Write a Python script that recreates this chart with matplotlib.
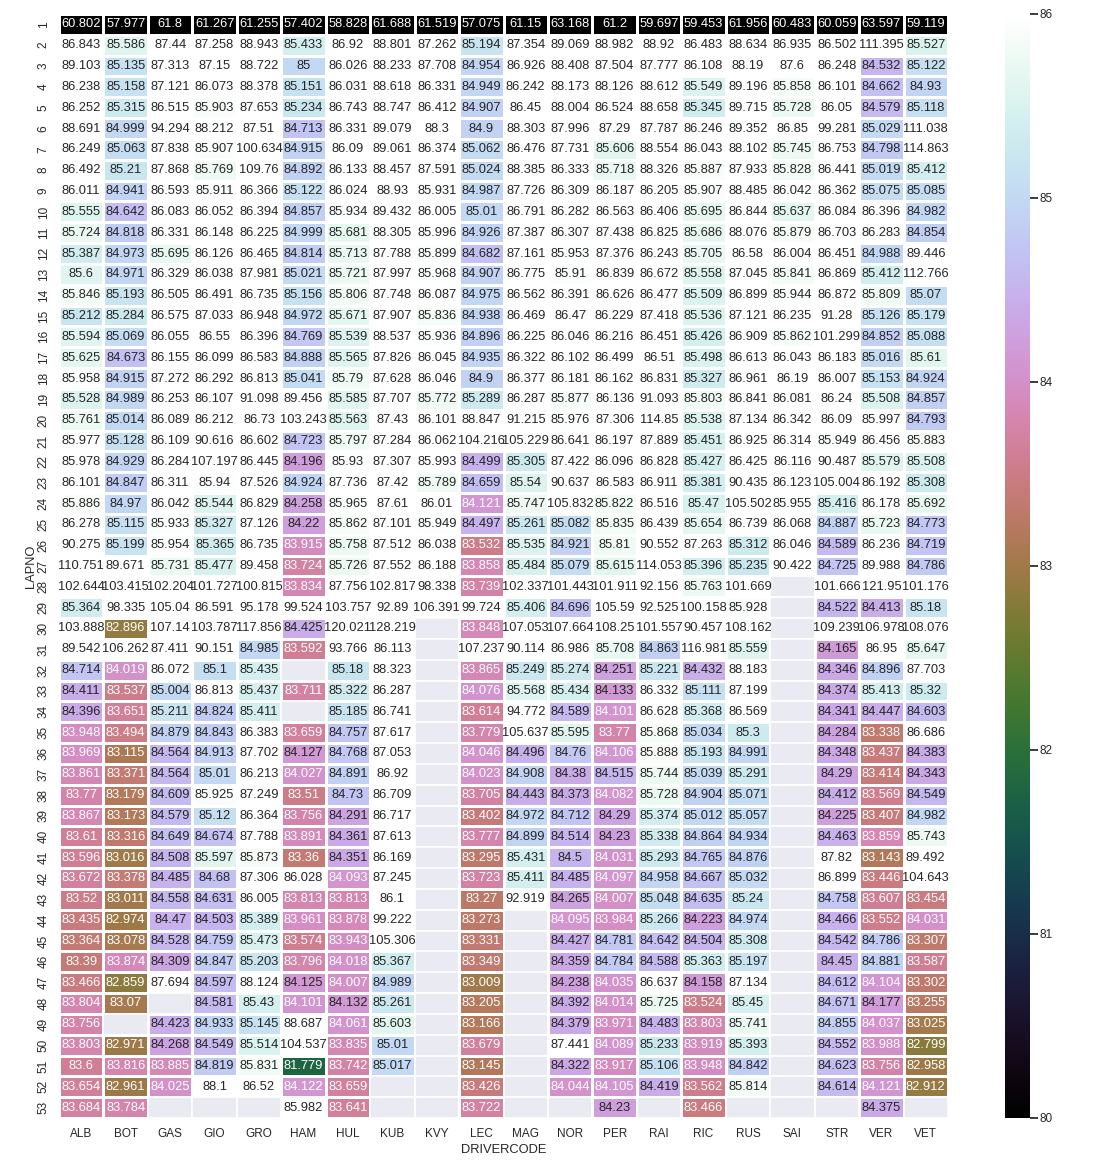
import numpy as np
import pandas as pd
import matplotlib
matplotlib.use("Agg")
import matplotlib.pyplot as plt
from matplotlib.colors import ListedColormap
import seaborn as sns

N = None
drivers = ["ALB", "BOT", "GAS", "GIO", "GRO", "HAM", "HUL", "KUB", "KVY", "LEC",
           "MAG", "NOR", "PER", "RAI", "RIC", "RUS", "SAI", "STR", "VER", "VET"]
laps = list(range(1, 54))

ALB = [60.802, 86.843, 89.103, 86.238, 86.252, 88.691, 86.249, 86.492, 86.011, 85.555,
       85.724, 85.387, 85.6, 85.846, 85.212, 85.594, 85.625, 85.958, 85.528, 85.761,
       85.977, 85.978, 86.101, 85.886, 86.278, 90.275, 110.751, 102.644, 85.364, 103.888,
       89.542, 84.714, 84.411, 84.396, 83.948, 83.969, 83.861, 83.77, 83.867, 83.61,
       83.596, 83.672, 83.52, 83.435, 83.364, 83.39, 83.466, 83.804, 83.756, 83.803,
       83.6, 83.654, 83.684]
BOT = [57.977, 85.586, 85.135, 85.158, 85.315, 84.999, 85.063, 85.21, 84.941, 84.642,
       84.818, 84.973, 84.971, 85.193, 85.284, 85.069, 84.673, 84.915, 84.989, 85.014,
       85.128, 84.929, 84.847, 84.97, 85.115, 85.199, 89.671, 103.415, 98.335, 82.896,
       106.262, 84.019, 83.537, 83.651, 83.494, 83.115, 83.371, 83.179, 83.173, 83.316,
       83.016, 83.378, 83.011, 82.974, 83.078, 83.874, 82.859, 83.07, N, 82.971,
       83.816, 82.961, 83.784]
GAS = [61.8, 87.44, 87.313, 87.121, 86.515, 94.294, 87.838, 87.868, 86.593, 86.083,
       86.331, 85.695, 86.329, 86.505, 86.575, 86.055, 86.155, 87.272, 86.253, 86.089,
       86.109, 86.284, 86.311, 86.042, 85.933, 85.954, 85.731, 102.204, 105.04, 107.14,
       87.411, 86.072, 85.004, 85.211, 84.879, 84.564, 84.564, 84.609, 84.579, 84.649,
       84.508, 84.485, 84.558, 84.47, 84.528, 84.309, 87.694, N, 84.423, 84.268,
       83.885, 84.025, N]
GIO = [61.267, 87.258, 87.15, 86.073, 85.903, 88.212, 85.907, 85.769, 85.911, 86.052,
       86.148, 86.126, 86.038, 86.491, 87.033, 86.55, 86.099, 86.292, 86.107, 86.212,
       90.616, 107.197, 85.94, 85.544, 85.327, 85.365, 85.477, 101.727, 86.591, 103.787,
       90.151, 85.1, 86.813, 84.824, 84.843, 84.913, 85.01, 85.925, 85.12, 84.674,
       85.597, 84.68, 84.631, 84.503, 84.759, 84.847, 84.597, 84.581, 84.933, 84.549,
       84.819, 88.1, N]
GRO = [61.255, 88.943, 88.722, 88.378, 87.653, 87.51, 100.634, 109.76, 86.366, 86.394,
       86.225, 86.465, 87.981, 86.735, 86.948, 86.396, 86.583, 86.813, 91.098, 86.73,
       86.602, 86.445, 87.526, 86.829, 87.126, 86.735, 89.458, 100.815, 95.178, 117.856,
       84.985, 85.435, 85.437, 85.411, 86.383, 87.702, 86.213, 87.249, 86.364, 87.788,
       85.873, 87.306, 86.005, 85.389, 85.473, 85.203, 88.124, 85.43, 85.145, 85.514,
       85.831, 86.52, N]
HAM = [57.402, 85.433, 85, 85.151, 85.234, 84.713, 84.915, 84.892, 85.122, 84.857,
       84.999, 84.814, 85.021, 85.156, 84.972, 84.769, 84.888, 85.041, 89.456, 103.243,
       84.723, 84.196, 84.924, 84.258, 84.22, 83.915, 83.724, 83.834, 99.524, 84.425,
       83.592, N, 83.711, N, 83.659, 84.127, 84.027, 83.51, 83.756, 83.891,
       83.36, 86.028, 83.813, 83.961, 83.574, 83.796, 84.125, 84.101, 88.687, 104.537,
       81.779, 84.122, 85.982]
HUL = [58.828, 86.92, 86.026, 86.031, 86.743, 86.331, 86.09, 86.133, 86.024, 85.934,
       85.681, 85.713, 85.721, 85.806, 85.671, 85.539, 85.565, 85.79, 85.585, 85.563,
       85.797, 85.93, 87.736, 85.965, 85.862, 85.758, 85.726, 87.756, 103.757, 120.021,
       93.766, 85.18, 85.322, 85.185, 84.757, 84.768, 84.891, 84.73, 84.291, 84.361,
       84.351, 84.093, 83.813, 83.878, 83.943, 84.018, 84.007, 84.132, 84.061, 83.835,
       83.742, 83.659, 83.641]
KUB = [61.688, 88.801, 88.233, 88.618, 88.747, 89.079, 89.061, 88.457, 88.93, 89.432,
       88.305, 87.788, 87.997, 87.748, 87.907, 88.537, 87.826, 87.628, 87.707, 87.43,
       87.284, 87.307, 87.42, 87.61, 87.101, 87.512, 87.552, 102.817, 92.89, 128.219,
       86.113, 88.323, 86.287, 86.741, 87.617, 87.053, 86.92, 86.709, 86.717, 87.613,
       86.169, 87.245, 86.1, 99.222, 105.306, 85.367, 84.989, 85.261, 85.603, 85.01,
       85.017, N, N]
KVY = [61.519, 87.262, 87.708, 86.331, 86.412, 88.3, 86.374, 87.591, 85.931, 86.005,
       85.996, 85.899, 85.968, 86.087, 85.836, 85.936, 86.045, 86.046, 85.772, 86.101,
       86.062, 85.993, 85.789, 86.01, 85.949, 86.038, 86.188, 98.338, 106.391, N,
       N, N, N, N, N, N, N, N, N, N,
       N, N, N, N, N, N, N, N, N, N,
       N, N, N]
LEC = [57.075, 85.194, 84.954, 84.949, 84.907, 84.9, 85.062, 85.024, 84.987, 85.01,
       84.926, 84.682, 84.907, 84.975, 84.938, 84.896, 84.935, 84.9, 85.289, 88.847,
       104.216, 84.499, 84.659, 84.121, 84.497, 83.532, 83.858, 83.739, 99.724, 83.848,
       107.237, 83.865, 84.076, 83.614, 83.779, 84.046, 84.023, 83.705, 83.402, 83.777,
       83.295, 83.723, 83.27, 83.273, 83.331, 83.349, 83.009, 83.205, 83.166, 83.679,
       83.145, 83.426, 83.722]
MAG = [61.15, 87.354, 86.926, 86.242, 86.45, 88.303, 86.476, 88.385, 87.726, 86.791,
       87.387, 87.161, 86.775, 86.562, 86.469, 86.225, 86.322, 86.377, 86.287, 91.215,
       105.229, 85.305, 85.54, 85.747, 85.261, 85.535, 85.484, 102.337, 85.406, 107.053,
       90.114, 85.249, 85.568, 94.772, 105.637, 84.496, 84.908, 84.443, 84.972, 84.899,
       85.431, 85.411, 92.919, N, N, N, N, N, N, N,
       N, N, N]
NOR = [63.168, 89.069, 88.408, 88.173, 88.004, 87.996, 87.731, 86.333, 86.309, 86.282,
       86.307, 85.953, 85.91, 86.391, 86.47, 86.046, 86.102, 86.181, 85.877, 85.976,
       86.641, 87.422, 90.637, 105.832, 85.082, 84.921, 85.079, 101.443, 84.696, 107.664,
       86.986, 85.274, 85.434, 84.589, 85.595, 84.76, 84.38, 84.373, 84.712, 84.514,
       84.5, 84.485, 84.265, 84.095, 84.427, 84.359, 84.238, 84.392, 84.379, 87.441,
       84.322, 84.044, N]
PER = [61.2, 88.982, 87.504, 88.126, 86.524, 87.29, 85.606, 85.718, 86.187, 86.563,
       87.438, 87.376, 86.839, 86.626, 86.229, 86.216, 86.499, 86.162, 86.136, 87.306,
       86.197, 86.096, 86.583, 85.822, 85.835, 85.81, 85.615, 101.911, 105.59, 108.25,
       85.708, 84.251, 84.133, 84.101, 83.77, 84.106, 84.515, 84.082, 84.29, 84.23,
       84.031, 84.097, 84.007, 83.984, 84.781, 84.784, 84.035, 84.014, 83.971, 84.089,
       83.917, 84.105, 84.23]
RAI = [59.697, 88.92, 87.777, 88.612, 88.658, 87.787, 88.554, 88.326, 86.205, 86.406,
       86.825, 86.243, 86.672, 86.477, 87.418, 86.451, 86.51, 86.831, 91.093, 114.85,
       87.889, 86.828, 86.911, 86.516, 86.439, 90.552, 114.053, 92.156, 92.525, 101.557,
       84.863, 85.221, 86.332, 86.628, 85.868, 85.888, 85.744, 85.728, 85.374, 85.338,
       85.293, 84.958, 85.048, 85.266, 84.642, 84.588, 86.637, 85.725, 84.483, 85.233,
       85.106, 84.419, N]
RIC = [59.453, 86.483, 86.108, 85.549, 85.345, 86.246, 86.043, 85.887, 85.907, 85.695,
       85.686, 85.705, 85.558, 85.509, 85.536, 85.426, 85.498, 85.327, 85.803, 85.538,
       85.451, 85.427, 85.381, 85.47, 85.654, 87.263, 85.396, 85.763, 100.158, 90.457,
       116.981, 84.432, 85.111, 85.368, 85.034, 85.193, 85.039, 84.904, 85.012, 84.864,
       84.765, 84.667, 84.635, 84.223, 84.504, 85.363, 84.158, 83.524, 83.803, 83.919,
       83.948, 83.562, 83.466]
RUS = [61.956, 88.634, 88.19, 89.196, 89.715, 89.352, 88.102, 87.933, 88.485, 86.844,
       88.076, 86.58, 87.045, 86.899, 87.121, 86.909, 86.613, 86.961, 86.841, 87.134,
       86.925, 86.425, 90.435, 105.502, 86.739, 85.312, 85.235, 101.669, 85.928, 108.162,
       85.559, 88.183, 87.199, 86.569, 85.3, 84.991, 85.291, 85.071, 85.057, 84.934,
       84.876, 85.032, 85.24, 84.974, 85.308, 85.197, 87.134, 85.45, 85.741, 85.393,
       84.842, 85.814, N]
SAI = [60.483, 86.935, 87.6, 85.858, 85.728, 86.85, 85.745, 85.828, 86.042, 85.637,
       85.879, 86.004, 85.841, 85.944, 86.235, 85.862, 86.043, 86.19, 86.081, 86.342,
       86.314, 86.116, 86.123, 85.955, 86.068, 86.046, 90.422, N, N, N,
       N, N, N, N, N, N, N, N, N, N,
       N, N, N, N, N, N, N, N, N, N,
       N, N, N]
STR = [60.059, 86.502, 86.248, 86.101, 86.05, 99.281, 86.753, 86.441, 86.362, 86.084,
       86.703, 86.451, 86.869, 86.872, 91.28, 101.299, 86.183, 86.007, 86.24, 86.09,
       85.949, 90.487, 105.004, 85.416, 84.887, 84.589, 84.725, 101.666, 84.522, 109.239,
       84.165, 84.346, 84.374, 84.341, 84.284, 84.348, 84.29, 84.412, 84.225, 84.463,
       87.82, 86.899, 84.758, 84.466, 84.542, 84.45, 84.612, 84.671, 84.855, 84.552,
       84.623, 84.614, N]
VER = [63.597, 111.395, 84.532, 84.662, 84.579, 85.029, 84.798, 85.019, 85.075, 86.396,
       86.283, 84.988, 85.412, 85.809, 85.126, 84.852, 85.016, 85.153, 85.508, 85.997,
       86.456, 85.579, 86.192, 86.178, 85.723, 86.236, 89.988, 121.95, 84.413, 106.978,
       86.95, 84.896, 85.413, 84.447, 83.338, 83.437, 83.414, 83.569, 83.407, 83.859,
       83.143, 83.446, 83.607, 83.552, 84.786, 84.881, 84.104, 84.177, 84.037, 83.988,
       83.756, 84.121, 84.375]
VET = [59.119, 85.527, 85.122, 84.93, 85.118, 111.038, 114.863, 85.412, 85.085, 84.982,
       84.854, 89.446, 112.766, 85.07, 85.179, 85.088, 85.61, 84.924, 84.857, 84.793,
       85.883, 85.508, 85.308, 85.692, 84.773, 84.719, 84.786, 101.176, 85.18, 108.076,
       85.647, 87.703, 85.32, 84.603, 86.686, 84.383, 84.343, 84.549, 84.982, 85.743,
       89.492, 104.643, 83.454, 84.031, 83.307, 83.587, 83.302, 83.255, 83.025, 82.799,
       82.958, 82.912, N]

columns = [ALB, BOT, GAS, GIO, GRO, HAM, HUL, KUB, KVY, LEC,
           MAG, NOR, PER, RAI, RIC, RUS, SAI, STR, VER, VET]

data = {d: pd.Series(c, dtype=float).values for d, c in zip(drivers, columns)}
df = pd.DataFrame(data, index=pd.Index(laps, name="LAPNO"))
df.columns.name = "DRIVERCODE"

sns.set_theme()
plt.rcParams["font.family"] = ["Liberation Sans", "DejaVu Sans"]
plt.rcParams["xtick.labelsize"] = 8.5
plt.rcParams["ytick.labelsize"] = 8.5
plt.rcParams["axes.labelsize"] = 9.3
plt.rcParams["xtick.major.pad"] = plt.rcParams["xtick.major.pad"] - 2.2
plt.rcParams["ytick.major.pad"] = plt.rcParams["ytick.major.pad"] - 2.8

W, H = 1109, 1160
fig = plt.figure(figsize=(W / 100, H / 100), dpi=100)
top, bottom = 14, 1118
ax = fig.add_axes([59 / W, (H - bottom) / H, 889 / W, (bottom - top) / H])
cax = fig.add_axes([1005 / W, (H - bottom) / H, 25 / W, (bottom - top) / H])

sns.heatmap(df, cmap="cubehelix", vmin=80, vmax=86, annot=True, fmt="g",
            linewidths=1, linecolor="white", ax=ax, cbar_ax=cax,
            annot_kws={"size": 9.3})

# missing cells: grey face with the same white separators
miss = df.isna().values
missing = np.ma.masked_where(~miss, np.ones(df.shape))
ax.pcolormesh(np.arange(df.shape[1] + 1), np.arange(df.shape[0] + 1), missing,
              cmap=ListedColormap(["#EAEAF2"]), edgecolors="white",
              linewidth=1.2, zorder=2, antialiased=True)
ax.set_xlim(0, df.shape[1])
ax.set_ylim(df.shape[0], 0)
ax.grid(False)
ax.xaxis.labelpad = 2.5
ax.yaxis.labelpad = 0.5

fig.savefig("out.png", dpi=100)
